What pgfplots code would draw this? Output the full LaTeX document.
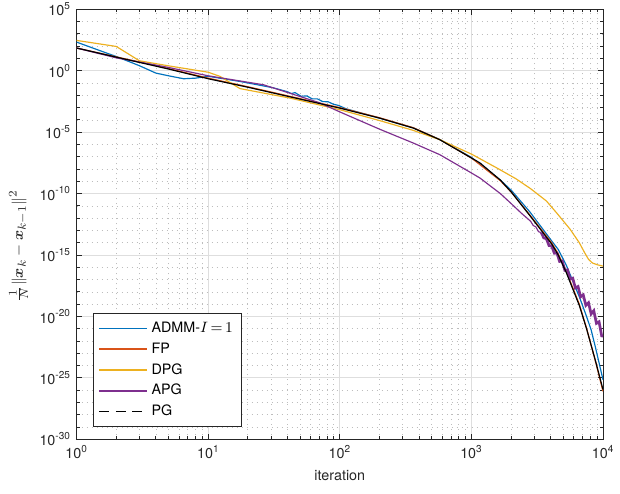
\documentclass[border=0pt]{standalone}
\usepackage{amsmath}
\usepackage[no-math]{fontspec}
\setmainfont{TeX Gyre Heros}
\usepackage{pgfplots}
\pgfplotsset{compat=1.18}
\definecolor{mblue}{rgb}{0,0.447,0.741}
\definecolor{mred}{rgb}{0.85,0.325,0.098}
\definecolor{myellow}{rgb}{0.929,0.694,0.125}
\definecolor{mpurple}{rgb}{0.494,0.184,0.556}
\definecolor{axgray}{rgb}{0.15,0.15,0.15}
\newcommand{\ticksize}{\fontsize{8.6}{10}\selectfont}
\newcommand{\tn}[1]{10\textsuperscript{#1}}
\newcommand{\admmlabel}{ADMM-$I\mskip\thinmuskip{=}\mskip\thinmuskip 1$}
\begin{document}
\begin{tikzpicture}
\begin{axis}[
  xmode=log, ymode=log,
  scale only axis, width=315.8pt, height=258pt,
  xmin=1, xmax=10000, ymin=1e-30, ymax=1e5,
  xtick={1,10,100,1000,10000},
  xticklabels={\tn{0},\tn{1},\tn{2},\tn{3},\tn{4}},
  minor xtick={2,3,...,9,20,30,...,90,200,300,...,900,2000,3000,...,9000},
  ytick={1e-30,1e-25,1e-20,1e-15,1e-10,1e-5,1,1e5},
  yticklabels={\tn{-30},\tn{-25},\tn{-20},\tn{-15},\tn{-10},\tn{-5},\tn{0},\tn{5}},
  minor ytick={1e-29,1e-28,1e-27,1e-26,1e-24,1e-23,1e-22,1e-21,1e-19,1e-18,1e-17,1e-16,1e-14,1e-13,1e-12,1e-11,1e-9,1e-8,1e-7,1e-6,1e-4,1e-3,1e-2,1e-1,1e1,1e2,1e3,1e4},
  grid=both,
  major grid style={color=black!13, line width=0.5pt},
  minor grid style={color=black!26, line width=0.45pt, dash pattern=on 0.5pt off 2.5pt},
  tick align=inside, tick pos=both,
  major tick length=3.2pt, minor tick length=1.8pt,
  axis line style={axgray, line width=0.5pt},
  every tick/.style={axgray, line width=0.5pt},
  tick label style={font=\ticksize, text=axgray},
  xlabel={iteration},
  xlabel style={font=\ticksize, text=axgray},
  ylabel={$\frac{1}{N}\|\boldsymbol{x}_k-\boldsymbol{x}_{k-1}\|^2$},
  ylabel style={font=\fontsize{9.5}{11}\selectfont, text=axgray, at={(ticklabel cs:0.45)}},
  legend cell align=left,
  legend style={at={(0.031,0.0286)}, anchor=south west, draw=axgray, line width=0.5pt,
    font=\ticksize, fill=white, inner xsep=3pt, inner ysep=3pt, row sep=0.6pt},
  legend image code/.code={\draw[#1] (0pt,0pt) -- (29pt,0pt);},
]
\addlegendimage{mblue, line width=0.9pt}
\addlegendentry{\admmlabel}
\addlegendimage{mred, line width=0.9pt}
\addlegendentry{FP}
\addlegendimage{myellow, line width=0.9pt}
\addlegendentry{DPG}
\addlegendimage{mpurple, line width=0.9pt}
\addlegendentry{APG}
\addlegendimage{black, line width=0.8pt, dash pattern=on 6pt off 4pt}
\addlegendentry{PG}
\addplot[mblue, line width=0.7pt, forget plot] coordinates {
(1,214) (1.69,27.5) (2,14.5) (3,2.57) (4,0.646) (5,0.389) (6.5,0.224) (8,0.251) (10,0.355)
(17.4,0.135) (31,4.17e-2) (39.8,2.0e-2) (42.7,1.41e-2) (45.7,1.66e-2) (50.7,8.51e-3)
(56.2,8.91e-3) (61.7,5.13e-3) (67.6,5.13e-3) (74.1,3.09e-3) (81.3,3.02e-3) (89.1,1.91e-3)
(97.7,1.51e-3) (112,7.94e-4) (200,1.41e-4) (361,2.24e-5) (575,2.51e-6) (1000,8.91e-8)
(1660,1.26e-9) (2018,1.78e-10) (2786,3.16e-12) (4074,1.41e-14) (4571,2.82e-15)
(5248,1.58e-16) (6607,3.98e-19) (7499,1e-20) (8128,7.94e-22) (8710,3.98e-23) (10000,7.08e-26)
};
\addplot[mred, line width=0.7pt, forget plot] coordinates {
(1,70.8) (2,13.5) (3,5.25) (5,1.51) (10,0.251) (20,5.01e-2) (50,5.37e-3) (100,1e-3)
(200,1.51e-4) (361,2.34e-5) (575,2.51e-6) (1000,7.94e-8) (1660,1.12e-9) (2018,1.26e-10)
(2786,1.78e-12) (4074,1e-14) (4571,1.26e-15) (5248,5.01e-17) (6607,1e-19) (7499,1.12e-21)
(8710,2.82e-24) (10000,7.94e-27)
};
\addplot[myellow, line width=0.7pt, forget plot] coordinates {
(1,295) (2,95.5) (3,6.46) (5,2.51) (10,0.759) (12.3,0.347) (17.4,3.55e-2) (41.7,6.03e-3)
(100,6.76e-4) (200,8.91e-5) (361,1.41e-5) (575,2.45e-6) (1000,1.66e-7) (1585,1.12e-8)
(2188,1.58e-9) (2818,2.51e-10) (3715,2.51e-11) (4467,2.51e-12) (5623,1.26e-13) (6607,1e-14)
(7244,1.58e-15) (7762,4.47e-16) (8318,2.24e-16) (9120,1.58e-16) (10000,1.26e-16)
};
\addplot[mpurple, line width=0.7pt, forget plot] coordinates {
(1,70.8) (2,11.2) (3,5.13) (5,1.86) (10,0.389) (26.3,7.24e-2) (50,7.94e-3) (70,2.51e-3)
(100,4.47e-4) (200,1.78e-5) (361,1.32e-6) (575,1.48e-7) (1000,4.79e-9) (1161,1.86e-9)
(1660,1e-10) (2000,1.58e-11) (2400,2.51e-12)
(2818,5.62e-13) (2951,2.51e-13) (3090,1.95e-13) (3236,7.94e-14) (3388,6.76e-14)
};
\addplot[mpurple, line width=1.6pt, forget plot] coordinates {
(3388,6.76e-14) (3548,2.51e-14) (3715,2.09e-14) (3890,5.89e-15) (4074,5.50e-15) (4266,1.41e-15)
(4467,1.45e-15) (4677,3.02e-16) (4898,3.31e-16) (5129,5.75e-17) (5370,6.31e-17)
(5623,1.10e-17) (5888,1.32e-17) (6166,2.09e-18) (6457,2.75e-18) (6761,3.98e-19)
(7079,5.75e-19) (7413,7.94e-20) (7762,1.29e-19) (8128,1.62e-20) (8511,2.95e-20)
(8913,2.75e-21) (9333,3.72e-21) (9772,2.63e-22) (10000,2.51e-22)
};
\addplot[black, line width=0.7pt, forget plot] coordinates {
(1,70.8) (2,12.9) (3,4.79) (5,1.38) (10,0.224) (20,4.57e-2) (50,4.90e-3) (100,9.12e-4)
(200,1.41e-4) (361,2.19e-5) (575,2.45e-6) (1000,7.94e-8) (1161,3.16e-8) (1660,1.26e-9)
(2018,1.26e-10) (2786,1.58e-12) (4074,7.94e-15) (4571,1e-15) (5248,3.98e-17)
(6607,7.94e-20) (7499,1e-21) (8710,3.16e-24) (10000,1.12e-26)
};
\coordinate (SW) at (rel axis cs:0,0);
\coordinate (NE) at (rel axis cs:1,1);
\end{axis}
\pgfresetboundingbox
\path[use as bounding box] ([shift={(-46.0pt,-32.8pt)}]SW) rectangle ([shift={(10.2pt,5.6pt)}]NE);
\end{tikzpicture}
\end{document}
